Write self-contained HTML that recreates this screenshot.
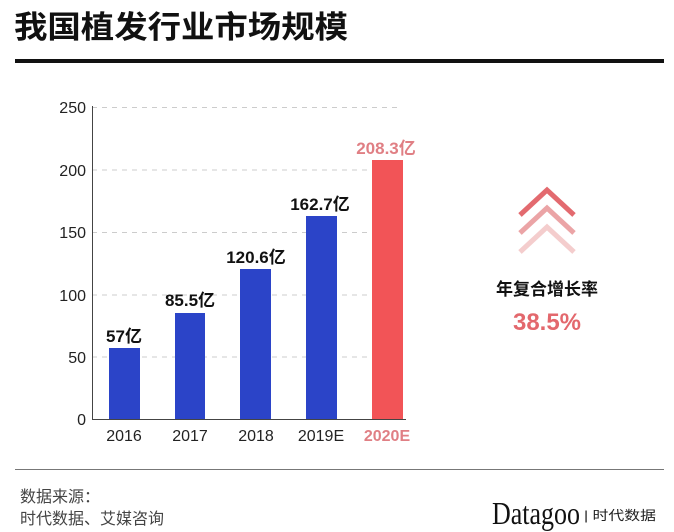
<!DOCTYPE html>
<html><head><meta charset="utf-8"><style>
body{margin:0;background:#fff;}
svg{display:block;}
</style></head><body>
<svg width="674" height="532" xmlns="http://www.w3.org/2000/svg" font-family="Liberation Sans, Noto Sans CJK SC, sans-serif">
<rect width="674" height="532" fill="#fff"/>
<text x="14" y="38" font-size="31" font-weight="bold" fill="#111" textLength="334" lengthAdjust="spacingAndGlyphs">我国植发行业市场规模</text>
<rect x="15" y="59" width="649" height="4" fill="#111"/>
<g stroke="#ccc" stroke-dasharray="5,5" stroke-width="1">
<line x1="92" y1="107.5" x2="400" y2="107.5"/>
<line x1="92" y1="170" x2="372" y2="170"/>
<line x1="92" y1="232.5" x2="372" y2="232.5"/>
<line x1="92" y1="295" x2="372" y2="295"/>
<line x1="92" y1="357" x2="372" y2="357"/>
</g>
<line x1="92.5" y1="106" x2="92.5" y2="420" stroke="#444"/>
<line x1="92" y1="419.5" x2="406" y2="419.5" stroke="#444"/>
<g font-size="16" fill="#222" text-anchor="end">
<text x="86" y="113">250</text><text x="86" y="176">200</text><text x="86" y="238">150</text>
<text x="86" y="301">100</text><text x="86" y="363">50</text><text x="86" y="425">0</text>
</g>
<g fill="#2b44c8">
<rect x="109" y="348" width="31" height="71"/>
<rect x="175" y="313" width="30" height="106"/>
<rect x="240" y="269" width="31" height="150"/>
<rect x="306" y="216" width="31" height="203"/>
</g>
<rect x="372" y="160" width="31" height="259" fill="#f25457"/>
<g font-size="17" font-weight="bold" fill="#111" text-anchor="middle">
<text x="124" y="342">57亿</text>
<text x="190" y="306">85.5亿</text>
<text x="256" y="263">120.6亿</text>
<text x="320" y="210">162.7亿</text>
</g>
<text x="386" y="154" font-size="17" font-weight="bold" fill="#e07f84" text-anchor="middle">208.3亿</text>
<g font-size="16" fill="#222" text-anchor="middle">
<text x="124" y="441">2016</text><text x="190" y="441">2017</text><text x="256" y="441">2018</text><text x="321" y="441">2019E</text>
</g>
<text x="387" y="441" font-size="16" font-weight="bold" fill="#e07f84" text-anchor="middle">2020E</text>
<g fill="none" stroke-width="5">
<polyline points="520,215 547,190 574,215" stroke="#e36a6f"/>
<polyline points="520,233 547,208 574,233" stroke="#eba4a6"/>
<polyline points="520,252 547,227 574,252" stroke="#f4cdcd"/>
</g>
<text x="547" y="295" font-size="17" font-weight="bold" fill="#111" text-anchor="middle">年复合增长率</text>
<text x="547" y="330" font-size="24" font-weight="bold" fill="#e3686d" text-anchor="middle">38.5%</text>
<line x1="15" y1="469.5" x2="664" y2="469.5" stroke="#777"/>
<text x="20" y="502" font-size="16" fill="#444">数据来源：</text>
<text x="20" y="524" font-size="16" fill="#444">时代数据、艾媒咨询</text>
<text x="492" y="524" font-size="32" fill="#111" font-family="Liberation Serif, serif" textLength="88" lengthAdjust="spacingAndGlyphs">Datagoo</text>
<text x="584" y="520" font-size="13" fill="#222" textLength="72" lengthAdjust="spacingAndGlyphs">| 时代数据</text>
</svg>
</body></html>
